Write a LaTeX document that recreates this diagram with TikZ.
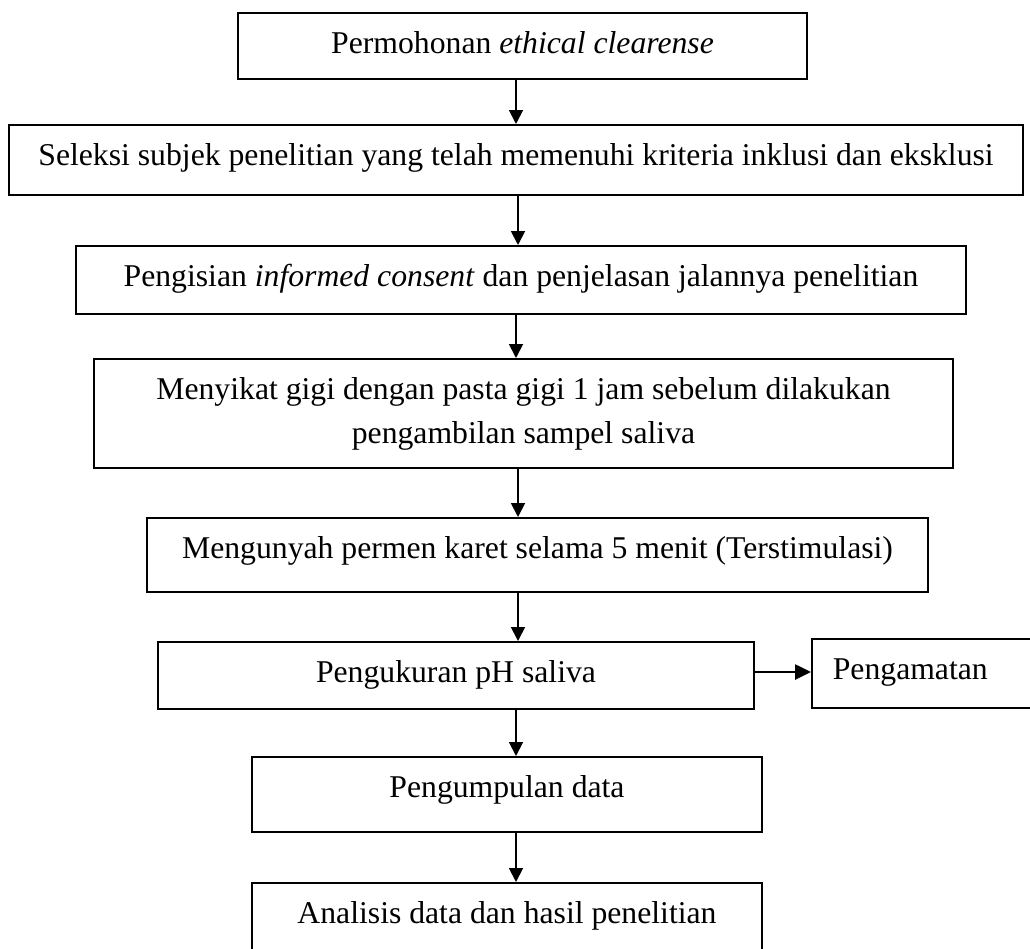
\documentclass[tikz,border=0pt]{standalone}
\usepackage{fontspec}
\setmainfont{Liberation Serif}
\usetikzlibrary{arrows.meta}
\begin{document}
\begin{tikzpicture}[x=1pt,y=-1pt,
  flowbox/.style={draw, line width=1.7pt, inner xsep=0pt, inner ysep=0pt, anchor=north,
    text height=41pt, font=\fontsize{31.7}{44}\selectfont},
  flowarrow/.style={line width=1.8pt, -{Triangle[length=14pt,width=14pt]}},
  sidearrow/.style={line width=2.6pt, -{Triangle[length=16pt,width=15pt]}},
]
\fill[white] (0,0) rectangle (1030,948);
\useasboundingbox (0,0) rectangle (1030,948);
\clip (0,0) rectangle (1030,948);

\node[flowbox, minimum width=569pt, text depth=25pt] (b1) at (522.5,12) {Permohonan \textit{ethical clearense}};
\node[flowbox, minimum width=1014pt, text depth=29pt] (b2) at (516,124) {Seleksi subjek penelitian yang telah memenuhi kriteria inklusi dan eksklusi};
\node[flowbox, minimum width=890pt, text depth=27pt] (b3) at (521,245) {Pengisian \textit{informed consent} dan penjelasan jalannya penelitian};
\node[flowbox, minimum width=859pt, text height=85pt, text depth=24pt, align=center] (b4) at (523.5,358) {Menyikat gigi dengan pasta gigi 1 jam sebelum dilakukan\\pengambilan sampel saliva};
\node[flowbox, minimum width=781pt, text depth=33pt] (b5) at (537.5,517) {Mengunyah permen karet selama 5 menit (Terstimulasi)};
\node[flowbox, minimum width=596pt, text depth=26pt] (b6) at (456,641) {Pengukuran pH saliva};
\node[flowbox, anchor=north west, inner xsep=21pt, text width=187pt, align=left, text depth=28pt] (b7) at (811,638) {Pengamatan};
\node[flowbox, minimum width=510pt, text depth=34pt] (b8) at (507,756) {Pengumpulan data};
\node[flowbox, minimum width=510pt, text depth=37pt] (b9) at (507,882) {Analisis data dan hasil penelitian};

\coordinate (xa) at (516,0);
\coordinate (xb) at (518,0);
\coordinate (ya) at (0,672);

\draw[flowarrow] (b1.south -| xa) -- (b2.north -| xa);
\draw[flowarrow] (b2.south -| xb) -- (b3.north -| xb);
\draw[flowarrow] (b3.south -| xa) -- (b4.north -| xa);
\draw[flowarrow] (b4.south -| xb) -- (b5.north -| xb);
\draw[flowarrow] (b5.south -| xb) -- (b6.north -| xb);
\draw[sidearrow] (b6.east |- ya) -- (b7.west |- ya);
\draw[flowarrow] (b6.south -| xa) -- (b8.north -| xa);
\draw[flowarrow] (b8.south -| xa) -- (b9.north -| xa);
\end{tikzpicture}
\end{document}
